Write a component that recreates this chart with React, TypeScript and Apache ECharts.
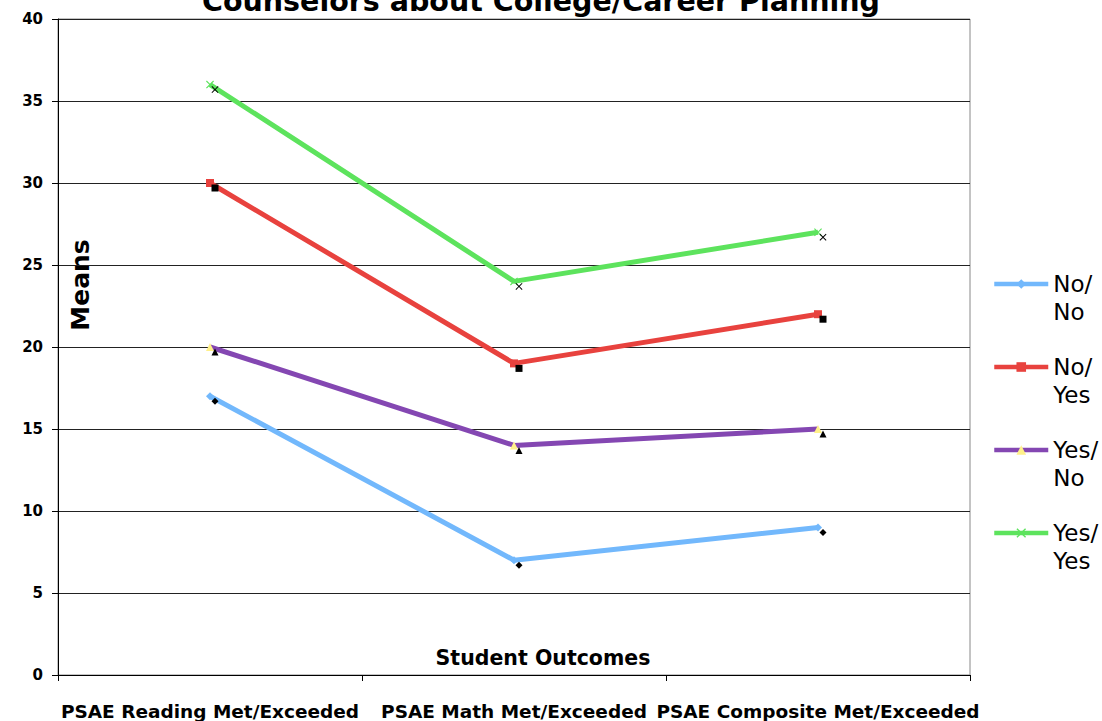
import React, { useEffect, useRef } from "react";
import * as echarts from "echarts";

const categories = [
  "PSAE Reading Met/Exceeded",
  "PSAE Math Met/Exceeded",
  "PSAE Composite Met/Exceeded",
];
const seriesNames = ["No/No", "No/Yes", "Yes/No", "Yes/Yes"];
const noNo = [17, 7, 9];
const noYes = [30, 19, 22];
const yesNo = [20, 14, 15];
const yesYes = [36, 24, 27];
const yTicks = [0, 5, 10, 15, 20, 25, 30, 35, 40];

const colors = ["#72b8fc", "#e8423e", "#8447b2", "#5de35d"];
const symbolColors = ["#72b8fc", "#e8423e", "#fff08a", "#5de35d"];
const xPath =
  "path://M1,0L5,4L9,0L10,1L6,5L10,9L9,10L5,6L1,10L0,9L4,5L0,1Z";
const symbols = ["diamond", "rect", "triangle", xPath];

export default function App() {
  const ref = useRef<HTMLDivElement>(null);
  useEffect(() => {
    document.body.style.margin = "0";
    const chart = echarts.init(ref.current!, null, { renderer: "svg" });
    const values = [noNo, noYes, yesNo, yesYes];
    const lineSeries = values.map((v, i) => ({
      name: seriesNames[i],
      type: "line",
      data: v,
      symbol: symbols[i],
      symbolSize: 8,
      showAllSymbol: true,
      itemStyle: { color: symbolColors[i] },
      lineStyle: { color: colors[i], width: 5 },
      color: colors[i],
      z: 2,
    }));
    const markerSeries = values.map((v, i) => ({
      name: seriesNames[i] + " marker",
      type: "line",
      data: v,
      symbol: symbols[i],
      symbolSize: 7,
      symbolOffset: [5, 5],
      lineStyle: { width: 0, opacity: 0 },
      itemStyle: { color: "#000" },
      z: 3,
    }));
    chart.setOption({
      animation: false,
      backgroundColor: "#fff",
      textStyle: { fontFamily: "DejaVu Sans" },
      grid: { left: 58, right: 132, top: 19, bottom: 44, show: true, borderColor: "#888", borderWidth: 1 },
      legend: {
        orient: "vertical",
        left: 987,
        top: 237,
        itemWidth: 54,
        itemHeight: 12,
        itemGap: -1,
        lineStyle: { width: 4.5 },
        data: seriesNames,
        formatter: (n: string) => " \n" + n.replace("/", "/\n"),
        textStyle: {
          fontSize: 23,
          lineHeight: 28,
          color: "#000",
          fontFamily: "DejaVu Sans",
        },
      },
      xAxis: {
        type: "category",
        data: categories,
        boundaryGap: true,
        axisLine: { lineStyle: { color: "#000", width: 1 } },
        axisTick: { show: true, length: 6, lineStyle: { color: "#000" } },
        axisLabel: {
          interval: 0,
          margin: 27,
          fontSize: 18.5,
          fontWeight: "bold",
          color: "#000",
          fontFamily: "DejaVu Sans",
        },
      },
      yAxis: {
        type: "value",
        min: 0,
        max: 40,
        interval: 5,
        axisLine: { show: true, lineStyle: { color: "#000" } },
        axisTick: { show: true, length: 6, lineStyle: { color: "#000" } },
        axisLabel: {
          margin: 15,
          fontSize: 15,
          fontWeight: "bold",
          color: "#000",
          fontFamily: "DejaVu Sans",
          formatter: (v: number) => (yTicks.includes(v) ? String(v) : ""),
        },
        splitLine: { show: true, lineStyle: { color: "#222", width: 1 } },
      },
      graphic: [
        {
          type: "text",
          x: 541,
          y: 1,
          style: {
            text: "Counselors about College/Career Planning",
            fontSize: 28.5,
            fontWeight: "bold",
            fontFamily: "DejaVu Sans",
            fill: "#000",
            textAlign: "center",
            textVerticalAlign: "middle",
          },
        },
        {
          type: "text",
          x: 80,
          y: 285,
          rotation: Math.PI / 2,
          style: {
            text: "Means",
            fontSize: 25,
            fontWeight: "bold",
            fontFamily: "DejaVu Sans",
            fill: "#000",
            textAlign: "center",
            textVerticalAlign: "middle",
          },
        },
        {
          type: "text",
          x: 543,
          y: 658,
          style: {
            text: "Student Outcomes",
            fontSize: 20.5,
            fontWeight: "bold",
            fontFamily: "DejaVu Sans",
            fill: "#000",
            textAlign: "center",
            textVerticalAlign: "middle",
          },
        },
      ],
      series: [...lineSeries, ...markerSeries],
    });
    return () => chart.dispose();
  }, []);
  return (
    <div
      ref={ref}
      style={{ position: "absolute", left: 0, top: 0, width: 1102, height: 721 }}
    />
  );
}
